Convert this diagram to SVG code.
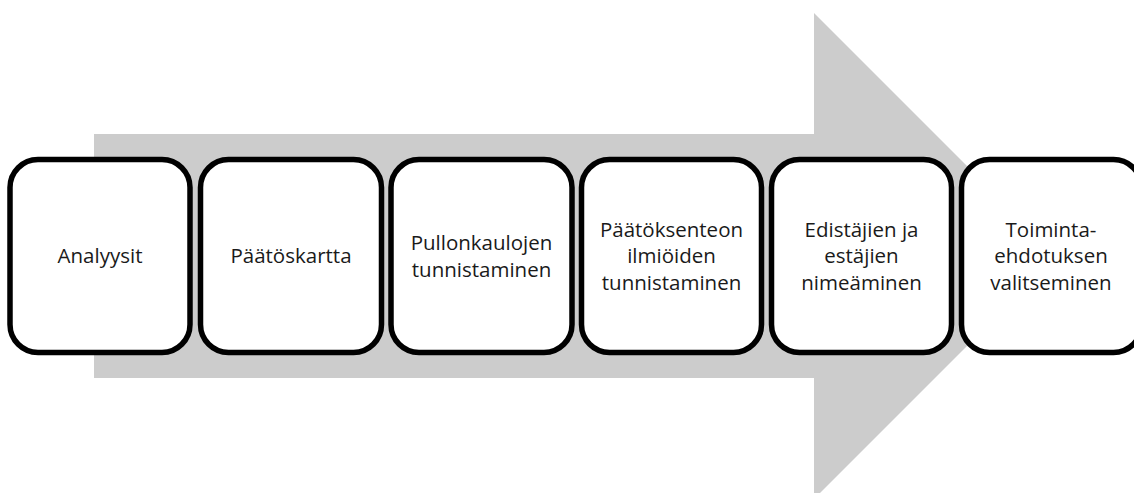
<svg xmlns="http://www.w3.org/2000/svg" width="1134" height="493" viewBox="0 0 1134 493">
<style>
.box{fill:#ffffff;stroke:#000000;stroke-width:5.5}
.lbl{font-family:"Open Sans","Noto Sans",sans-serif;font-size:20.5px;fill:#1a1a1a;text-anchor:middle}
</style>
<rect width="1134" height="493" fill="#ffffff"/>
<g id="connectors">
<polygon points="94,134 814,134 814,13 1057,256 814,499 814,378 94,378" fill="#cccccc"/>
</g>
<g id="n1"><rect class="box" x="10" y="159.5" width="180" height="193" rx="28"/><text class="lbl" x="100" y="263">Analyysit</text></g>
<g id="n2"><rect class="box" x="200.5" y="159.5" width="181" height="193" rx="28"/><text class="lbl" x="291" y="263">Päätöskartta</text></g>
<g id="n3"><rect class="box" x="391" y="159.5" width="181" height="193" rx="28"/><text class="lbl" x="481.5" y="250">Pullonkaulojen</text><text class="lbl" x="481.5" y="277">tunnistaminen</text></g>
<g id="n4"><rect class="box" x="581.5" y="159.5" width="180" height="193" rx="28"/><text class="lbl" x="671.5" y="237">Päätöksenteon</text><text class="lbl" x="671.5" y="263">ilmiöiden</text><text class="lbl" x="671.5" y="289.5">tunnistaminen</text></g>
<g id="n5"><rect class="box" x="771.5" y="159.5" width="180" height="193" rx="28"/><text class="lbl" x="861.5" y="237">Edistäjien ja</text><text class="lbl" x="861.5" y="263">estäjien</text><text class="lbl" x="861.5" y="289.5">nimeäminen</text></g>
<g id="n6"><rect class="box" x="961.5" y="159.5" width="180" height="193" rx="28"/><text class="lbl" x="1051" y="237">Toiminta-</text><text class="lbl" x="1051" y="263">ehdotuksen</text><text class="lbl" x="1051" y="289.5">valitseminen</text></g>
</svg>
